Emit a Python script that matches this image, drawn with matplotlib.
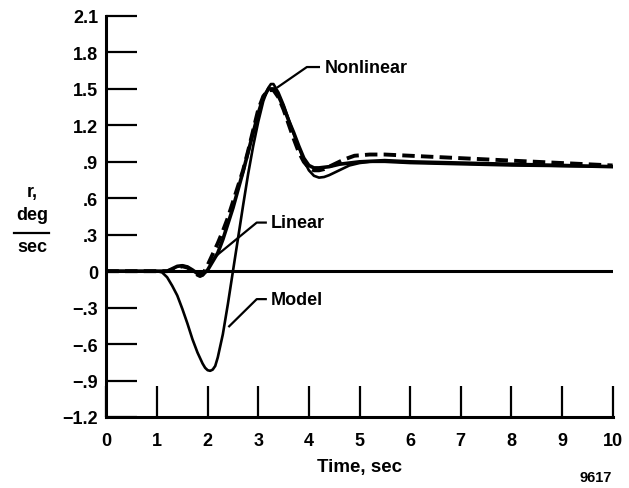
import matplotlib
matplotlib.use("Agg")
import matplotlib.pyplot as plt
from matplotlib.lines import Line2D

plt.rcParams['font.family'] = ['Liberation Sans', 'DejaVu Sans']
plt.rcParams['font.weight'] = 'bold'

# ---- data ----
model_t = [0, 1.0, 1.1, 1.2, 1.3, 1.4, 1.5, 1.6, 1.7, 1.8, 1.9, 1.95, 2.0, 2.05, 2.1, 2.15, 2.2,
           2.3, 2.4, 2.5, 2.6, 2.7, 2.8, 2.9, 3.0, 3.1, 3.2, 3.25, 3.3, 3.4, 3.5, 3.6, 3.7, 3.8,
           3.9, 4.0, 4.1, 4.2, 4.3, 4.4, 4.6, 4.8, 5.0, 5.2, 5.5, 6, 7, 8, 9, 10]
model_r = [0, 0, -0.01, -0.05, -0.12, -0.20, -0.31, -0.43, -0.56, -0.67, -0.76, -0.795, -0.815,
           -0.82, -0.81, -0.78, -0.71, -0.52, -0.27, 0.0, 0.27, 0.54, 0.80, 1.03, 1.23, 1.40,
           1.51, 1.54, 1.54, 1.47, 1.37, 1.25, 1.13, 1.02, 0.91, 0.83, 0.785, 0.77, 0.775, 0.79,
           0.83, 0.87, 0.89, 0.90, 0.90, 0.89, 0.88, 0.87, 0.865, 0.86]

linear_t = [0, 1.2, 1.3, 1.4, 1.5, 1.6, 1.7, 1.8, 1.85, 1.9, 2.0, 2.1, 2.2, 2.3, 2.4, 2.5, 2.6,
            2.7, 2.8, 2.9, 3.0, 3.1, 3.2, 3.3, 3.4, 3.5, 3.6, 3.7, 3.8, 3.9, 4.0, 4.1, 4.2, 4.3,
            4.5, 4.7, 4.9, 5.2, 5.5, 6, 6.5, 7, 8, 9, 10]
linear_r = [0, 0, 0.01, 0.03, 0.04, 0.03, 0.0, -0.03, -0.04, -0.03, 0.05, 0.14, 0.23, 0.33,
            0.44, 0.57, 0.70, 0.83, 0.99, 1.16, 1.33, 1.44, 1.49, 1.49, 1.43, 1.33, 1.21, 1.09,
            0.98, 0.90, 0.85, 0.83, 0.83, 0.84, 0.88, 0.92, 0.95, 0.96, 0.96, 0.95, 0.94, 0.93,
            0.91, 0.89, 0.87]

nonlin_t = [0, 1.2, 1.3, 1.4, 1.5, 1.6, 1.7, 1.8, 1.9, 2.0, 2.1, 2.2, 2.3, 2.4, 2.5, 2.6, 2.7,
            2.8, 2.9, 3.0, 3.1, 3.2, 3.3, 3.4, 3.5, 3.6, 3.7, 3.8, 3.9, 4.0, 4.1, 4.2, 4.4, 4.6,
            4.8, 5.0, 5.5, 6, 7, 8, 9, 10]
nonlin_r = [0, 0, 0.02, 0.04, 0.045, 0.035, 0.01, -0.02, -0.03, 0.01, 0.08, 0.15, 0.26, 0.39,
            0.52, 0.67, 0.82, 0.98, 1.14, 1.30, 1.43, 1.50, 1.50, 1.44, 1.35, 1.24, 1.14, 1.03,
            0.93, 0.87, 0.85, 0.85, 0.86, 0.88, 0.89, 0.90, 0.91, 0.90, 0.89, 0.88, 0.87, 0.86]

x_ticks = [0, 1, 2, 3, 4, 5, 6, 7, 8, 9, 10]
y_ticks = [-1.2, -0.9, -0.6, -0.3, 0, 0.3, 0.6, 0.9, 1.2, 1.5, 1.8, 2.1]
y_tick_labels = ["\u22121.2", "\u2212.9", "\u2212.6", "\u2212.3", "0", ".3", ".6", ".9",
                 "1.2", "1.5", "1.8", "2.1"]

W, H = 629, 489
fig = plt.figure(figsize=(W / 100, H / 100), dpi=100)
ax = fig.add_axes([106.4 / W, 1 - 418 / H, (612.6 - 106.4) / W, (418 - 17) / H])

ax.set_xlim(0, 10)
ax.set_ylim(-1.2, 2.1)

ax.axhline(0, color='black', lw=2.2, zorder=2)
ax.plot(model_t, model_r, color='black', lw=1.9, zorder=3)
ax.plot(nonlin_t, nonlin_r, color='black', lw=2.6, zorder=3)
ax.plot(linear_t, linear_r, color='black', lw=2.8, dashes=(3.2, 1.6), zorder=4)

for s in ['top', 'right']:
    ax.spines[s].set_visible(False)
for s in ['left', 'bottom']:
    ax.spines[s].set_linewidth(2.2)

FS = 13
ax.set_xticks(x_ticks)
ax.set_xticklabels([str(v) for v in x_ticks])
ax.set_yticks(y_ticks)
ax.set_yticklabels(y_tick_labels)
ax.tick_params(axis='both', direction='in', length=22, width=1.6, labelsize=FS)
ax.tick_params(axis='y', pad=6)
ax.tick_params(axis='x', pad=11)
for lab in ax.get_xticklabels() + ax.get_yticklabels():
    lab.set_fontweight('bold')

ax.set_xlabel("Time, sec", fontsize=13.5, fontweight='bold', labelpad=6)

# curve labels with leader lines
lk = dict(color='black', lw=1.6, solid_capstyle='butt', zorder=5)
ax.plot([4.22, 3.96, 3.37], [1.68, 1.68, 1.51], **lk)
ax.text(4.32, 1.68, "Nonlinear", fontsize=FS, fontweight='bold', va='center', ha='left')
ax.plot([3.17, 2.97, 2.15], [0.40, 0.40, 0.12], **lk)
ax.text(3.25, 0.40, "Linear", fontsize=FS, fontweight='bold', va='center', ha='left')
ax.plot([3.17, 2.97, 2.41], [-0.23, -0.23, -0.46], **lk)
ax.text(3.25, -0.23, "Model", fontsize=FS, fontweight='bold', va='center', ha='left')

# y-axis label as a fraction
def fx(px):
    return px / W

def fy(py):
    return 1 - py / H

fig.text(fx(32), fy(193), "r,", fontsize=FS, fontweight='bold', ha='center', va='center')
fig.text(fx(32), fy(216), "deg", fontsize=FS, fontweight='bold', ha='center', va='center')
fig.add_artist(Line2D([fx(14), fx(49)], [fy(234), fy(234)], color='black', lw=1.6))
fig.text(fx(32), fy(247), "sec", fontsize=FS, fontweight='bold', ha='center', va='center')

fig.text(fx(596), fy(478), "9617", fontsize=10.5, fontweight='bold', ha='center', va='center')

fig.savefig("out.png", dpi=100)
